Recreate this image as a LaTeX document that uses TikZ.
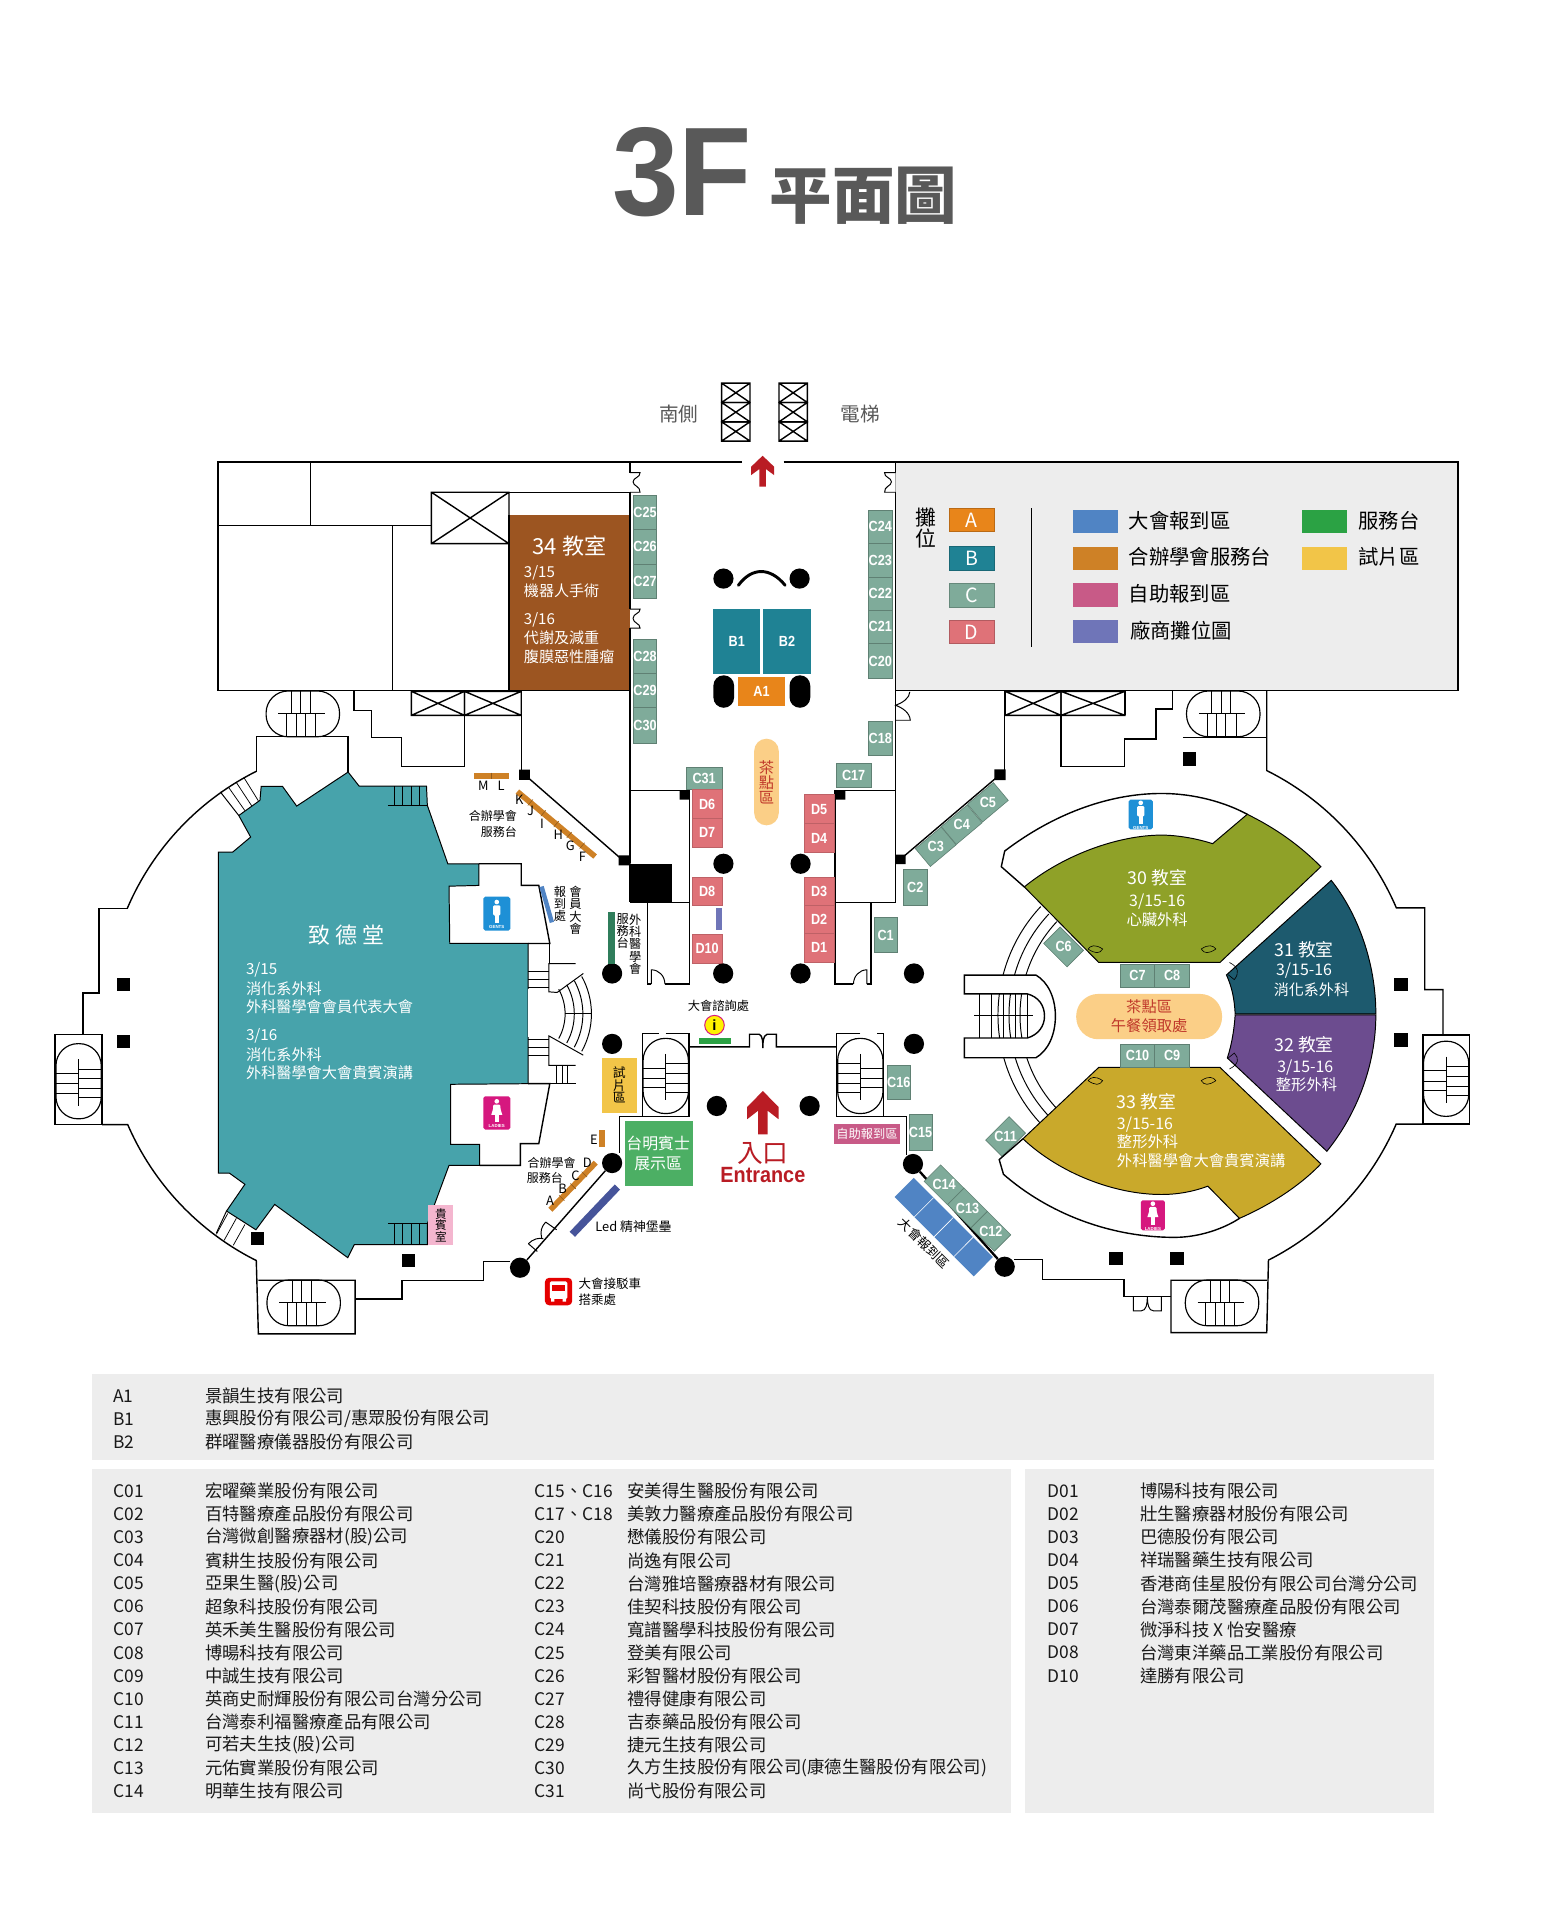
\documentclass[tikz,border=0pt]{standalone}
\usepackage{fontspec}
\setmainfont{Noto Sans CJK TC}
\newfontfamily\arl[FakeStretch=0.86]{Liberation Sans}
\newfontfamily\arb{Liberation Sans Bold}
\usetikzlibrary{calc}
\definecolor{cA}{HTML}{E8851A}\definecolor{cB}{HTML}{1F8294}\definecolor{cC}{HTML}{7FAB9A}\definecolor{cD}{HTML}{DF7278}
\definecolor{cReg}{HTML}{5084C4}\definecolor{cDesk}{HTML}{CE8126}\definecolor{cSelf}{HTML}{C85A87}\definecolor{cVen}{HTML}{6F75B8}
\definecolor{cSvc}{HTML}{2BA244}\definecolor{cFilm}{HTML}{F2C548}\definecolor{cGrey}{HTML}{EDEDED}\definecolor{cTitle}{HTML}{595959}
\definecolor{cHall}{HTML}{47A3AB}\definecolor{cBrown}{HTML}{9C5521}\definecolor{cR30}{HTML}{8FA128}\definecolor{cR31}{HTML}{1D5A6E}
\definecolor{cR32}{HTML}{6C4C8F}\definecolor{cR33}{HTML}{C9A92B}\definecolor{cTea}{HTML}{FBCF87}\definecolor{cRed}{HTML}{B91C24}
\definecolor{cTeaT}{HTML}{C0392B}\definecolor{cPink}{HTML}{F4B6CF}\definecolor{cGents}{HTML}{1E90D6}\definecolor{cLadies}{HTML}{D6187F}
\definecolor{cLed}{HTML}{46549A}\definecolor{cGreenB}{HTML}{2F7D5B}\definecolor{cShow}{HTML}{4CAF64}
\newcommand{\fs}[1]{\fontsize{#1}{#1}\selectfont}
\tikzset{
 wall/.style={draw=black,line width=1.15pt,line join=miter},
 thin wall/.style={draw=black,line width=.8pt},
 ln/.style={draw=black,line width=.6pt},
 room/.style={draw=black,line width=.8pt},
 cbox/.style={fill=cC,draw=cC!75!black,line width=.5pt},
 dbox/.style={fill=cD,draw=cD!85!black,line width=.5pt},
 lbl/.style={inner sep=0pt,text=white,font=\arl\bfseries\fs{12}},
 wt/.style={inner sep=0pt,text=white,anchor=west},
 bk/.style={inner sep=0pt,text=black},
 col/.style={inner sep=0pt,align=center},
 dot/.style={fill=black,draw=none,circle,minimum size=16.5pt,inner sep=0pt},
 sq/.style={fill=black,draw=none,minimum size=11pt,inner sep=0pt},
 swt/.style={line width=.5pt},
 tb/.style={inner sep=0pt,anchor=west,text=black!90,font=\fs{14.2}},
}
\newcommand{\bx}[7]{\path[#6] (#2,#3) rectangle (#4,#5) node[midway,lbl] (#1) {#7};}
\newcommand{\rbx}[8]{\node[#7,minimum width=#4pt,minimum height=#5pt,inner sep=0pt,rotate=#6] (#1) at (#2,#3) {};\node[lbl] at (#1.center) {#8};}
\newcommand{\hstair}[2]{\begin{scope}[shift={(#1,#2)}]
 \draw[line width=.95pt,rounded corners=18pt] (-30,-18.7) rectangle (30,18.7);
 \draw[line width=.9pt] (-20,0)--(18,0);
 \draw[ln] (-9.6,-18.7)--(-9.6,0) (-1.6,-18.7)--(-1.6,0) (6,-18.7)--(6,0);
 \draw[ln] (-13.3,0)--(-13.3,18.7) (-5.6,0)--(-5.6,18.7) (2,0)--(2,18.7) (10.4,0)--(10.4,18.7);
\end{scope}}
\newcommand{\vstair}[3]{\begin{scope}[shift={(#1,#2)},xscale=#3]
 \draw[line width=.95pt,rounded corners=18pt] (-18.5,-30.7) rectangle (18.5,30.7);
 \draw[line width=.9pt] (0,-18)--(0,20);
 \draw[ln] (-18.5,-6.5)--(0,-6.5) (-18.5,2)--(0,2) (-18.5,9.5)--(0,9.5);
 \draw[ln] (0,-10)--(18.5,-10) (0,-2)--(18.5,-2) (0,6)--(18.5,6) (0,13.5)--(18.5,13.5);
\end{scope}}
\newcommand{\xbox}[4]{\draw[wall] (#1,#2) rectangle (#3,#4) (#1,#2)--(#3,#4) (#1,#4)--(#3,#2);}
\newcommand{\wc}[8]{% name x1 y1 x2 y2 color label female
 \path[fill=#6,rounded corners=1.5pt] (#2,#3) rectangle (#4,#5) node[midway,inner sep=0pt] (#1) {};
 \fill[white] ($(#1.center)+(0,-9.5)$) circle (1.9pt);
 \fill[white,rounded corners=1pt] ($(#1.center)+(-3,-6.8)$) rectangle ($(#1.center)+(3,1.5)$);
 \fill[white] ($(#1.center)+(-1.8,1)$) rectangle ($(#1.center)+(1.8,7.5)$);
 #8
 \node[inner sep=0pt,text=white,font=\arb\fs{3.6}] at ($(#1.center)+(0,11)$) {#7};}
\begin{document}
\begin{tikzpicture}[x=1pt,y=-1pt]
\useasboundingbox (0,0) rectangle (1273,1568);
\fill[white] (0,0) rectangle (1273,1568);
% title
\node[inner sep=0pt,text=cTitle,font=\arb\fs{103},xscale=.95] (t3f) at (557,141) {3F};
\node[inner sep=0pt,text=cTitle,font=\bfseries\fs{51}] (tplan) at (705,160) {平面圖};
% elevators
\foreach \a/\b in {589.3/612.5,636.2/659.3}{
 \xbox{\a}{312.9}{\b}{328.7}\xbox{\a}{328.7}{\b}{344.5}\xbox{\a}{344.5}{\b}{360.2}}
\node[inner sep=0pt,text=cTitle,font=\fs{16}] (south) at (554.5,338) {南側};
\node[inner sep=0pt,text=cTitle,font=\fs{16}] (lift) at (702.5,338) {電梯};
% left block
\fill[cBrown] (415.7,420.5) rectangle (514.3,563.7);
\draw[wall] (606,377.4)--(178,377.4)--(178,563.7)--(514.5,563.7);
\draw[wall] (253.4,377.4)--(253.4,429) (178,429)--(352,429) (320.7,429)--(320.7,563.7);
\draw[wall] (352.3,402)--(514.5,402);
\xbox{352.3}{402}{415.7}{444}
\draw[wall] (415.7,420.5)--(415.7,563.7);
\draw[wall] (640,377.4)--(731.4,377.4);
% legend box
\path[fill=cGrey,draw=black,line width=1.15pt] (731.4,377.4) rectangle (1190.6,564);
% corridor walls
\draw[wall] (514.5,377.4)--(514.5,386) (514.5,402)--(514.5,497.5) (514.5,513)--(514.5,705);
\draw[thin wall] (514.5,386)--(522.7,386) .. controls (523,390) and (517,390) .. (517,393.5) .. controls (517,397) and (523,397) .. (522.7,402)--(514.5,402);
\draw[thin wall] (514.5,497.5)--(522.7,497.5) .. controls (523,501) and (517,501) .. (517,505) .. controls (517,509) and (523,509) .. (522.7,513)--(514.5,513);
\draw[wall] (731.4,377.4)--(731.4,737);
\draw[thin wall,fill=white] (731.4,386)--(722.4,386) .. controls (722,390) and (728,390) .. (728,393.5) .. controls (728,397) and (722,397) .. (722.4,402)--(731.4,402);
\draw[thin wall] (743,565) .. controls (743,570) and (737,574) .. (731.4,576) .. controls (737,578) and (743,582) .. (743.4,588.2)--(731.4,588.2);
% mid rooms
\draw[wall] (514.5,645.5)--(563,645.5)--(563,803.7)--(543,803.7);
\draw[wall] (682,645.5)--(731.4,645.5) (682,645.5)--(682,803.7)--(697,803.7);
\draw[wall] (514.5,737)--(563,737) (528.7,737)--(528.7,803.7)--(532,803.7);
\draw[wall] (682,737)--(731.4,737) (711.3,737)--(711.3,803.7)--(708,803.7);
\draw[thin wall] (532,803.7)--(532,792) .. controls (538,792) and (543,797) .. (543,803.7);
\draw[thin wall] (708,803.7)--(708,792) .. controls (702,792) and (697,797) .. (697,803.7);
\fill[black] (514,705.4) rectangle (548.6,737);
\fill[black] (555,645.5) rectangle (563,653) (682,645.5) rectangle (690.3,653);
% diagonals and posts
\draw[wall] (425.7,563.7)--(425.7,630) (820.5,564)--(820.5,630);
\draw[wall] (430,634)--(508,702) (735,702)--(815,634);
\fill[black] (424,628.6) rectangle (432.7,636.8) (505.3,698.6) rectangle (515,706.8) (731.4,698) rectangle (739.6,705.6) (812,628.3) rectangle (821.2,637);
% upper-left stepped
\xbox{336}{564.6}{379.3}{584.2}\xbox{379.3}{564.6}{425.7}{584.2}
\draw[wall] (289,564)--(289,580)--(303.3,580)--(303.3,602.4)--(327.7,602.4)--(327.7,625.9)--(379.3,625.9)--(379.3,584.2);
% upper-right stepped
\xbox{820.9}{564.6}{866.5}{584.2}\xbox{866.5}{564.6}{918.7}{584.2}
\draw[wall] (866.5,584.2)--(866.5,625.9)--(918.5,625.9)--(918.5,603.6)--(944,603.6)--(944,579)--(957.4,579)--(957.4,564);
\draw[wall] (918.7,564)--(918.7,584.2);
% stairs top
\hstair{247.3}{583}\hstair{999}{583}
\hstair{248}{1064}\hstair{998}{1064}
% left outer shell
\draw[wall] (209.7,629.7)--(209.7,601.3)--(284.3,601.3)--(284.3,630.5);
\draw[wall] (209.7,629.7) arc[start angle=243.5,end angle=203.06,radius=223.4];
\draw[wall] (104.3,742)--(80.7,742)--(80.7,810.8)--(67.7,810.8)--(67.7,844.6);
\draw[wall] (45,844.6) rectangle (83.3,918.4);
\draw[wall] (83.3,918.4)--(104.3,918.4) arc[start angle=156.6,end angle=116.6,radius=223.4]--(211,1089.3)--(290,1089.3)--(290,1045.5)--(211,1045.5);
\draw[wall] (290,1061)--(328.3,1061)--(328.3,1045.7)--(395,1045.7)--(395,1030)--(416.7,1030);
\vstair{64.2}{883}{1}
% right outer shell
\draw[wall] (1034.5,564)--(1034.5,629.3) arc[start angle=-63.5,end angle=-23.2,radius=223.8]--(1163.5,741.4)--(1163.5,808.2)--(1178.4,808.2)--(1178.4,845.3);
\draw[wall] (966,602.5)--(1034.5,602.5);
\draw[wall] (1162.1,845.3) rectangle (1200,918);
\draw[wall] (1162.1,918)--(1140.2,918) arc[start angle=23.3,end angle=63.1,radius=223.8]--(1034.5,1088.3)--(956.3,1088.3)--(956.3,1045.5)--(1034.5,1045.5);
\draw[wall] (956.3,1059)--(917.8,1059)--(917.8,1044.8)--(851.3,1044.8)--(851.3,1028.7)--(828.3,1028.7);
\draw[thin wall] (925.6,1059)--(925.6,1070.5)--(932,1070.5) .. controls (936,1070.5) and (937,1065) .. (937,1059) .. controls (937,1065) and (938,1070.5) .. (942,1070.5)--(948.5,1070.5)--(948.5,1059);
\vstair{1181}{881}{1}
% hall
\path[room,fill=cHall] (284.3,630.5)--(293.3,642)--(348.3,642)--(349,657.7)--(365.7,705.4)--(391,705.4)--(391,723.1)--(366.7,723.7)--(367.3,770.5)--(431.3,770.5)--(431.3,885)--(368,885.5)--(368,934.5)--(391.7,934.5)--(391.7,951.7)--(366.7,951.7)--(349,999.4)--(349,1016.5)--(289.3,1016.5)--(284,1027.1)--(224.3,983.6)--(209,1004.3)--(185,989)--(200,967.2)--(187.3,958)--(178.3,958)--(178.3,695.9)--(190,695.9)--(204.7,683.6)--(195,666)--(212.3,653.6)--(213.3,642.2)--(230.7,642.2)--(242.3,658.3)--cycle;
\fill[white] (430.8,808) rectangle (436,847);
\foreach \x in {321.7,328.3,335.7,342.3}{\draw[ln] (\x,642)--(\x,657.7);\draw[ln] (\x,999.4)--(\x,1016.5);}
\draw[thin wall] (316.7,657.7)--(349,657.7) (316.7,999.4)--(349,999.4);
\draw[thin wall] (180,646.8)--(195,666);
\foreach \a/\b/\c/\d in {186.7/643/200/662,193/639/205.5/658,199.5/635.5/211/654}{\draw[ln] (\a,\b)--(\c,\d);}
\foreach \a/\b/\c/\d in {186/991/176.7/1008,193/995/183/1013,200/1000/190.5/1017}{\draw[ln] (\a,\b)--(\c,\d);}
\draw[thin wall] (185,989)--(176.7,1007);
% restrooms right edges
\draw[wall] (391,705.4)--(425.7,705.4)--(425.7,723)--(440,723)--(449,770.5)--(431.3,770.5);
\draw[wall] (431.3,885)--(449,885)--(440,934)--(425,934)--(425,951.7)--(391.7,951.7);
\draw[ln] (448.3,770.5)--(448.3,787);
\draw[thin wall] (470,787)--(448.3,787)--(448.3,810)--(455,810.5);
\draw[thin wall] (470,870)--(448.3,870)--(448.3,846)--(476.3,861.7);
\draw[thin wall] (449,885)--(470.4,885);
\foreach \y in {793.6,800,806.4,849,855,861.7}{\draw[ln] (431.3,\y)--(448.3,\y);}
\foreach \x in {454,459,463.5}{\draw[ln] (\x,870)--(\x,885);}
\foreach \r in {41.5,49,56,63}{\draw[thin wall] ($(420,828)+(-29:\r)$) arc[start angle=-29,end angle=29,radius=\r];}
\draw[thin wall] (455,810.5)--(476.4,795);
\draw[thin wall] (461.4,828)--(483.2,828);
% pink room
\path[fill=cPink] (349.5,984.4) rectangle (370.3,1016.5);
\node[col,text=black,font=\fs{9.5}] (vip) at (360,1000.5) {貴\\賓\\室};
% hall text
\node[inner sep=0pt,text=white,font=\fs{18}] (hallt) at (283.3,763.7) {致 德 堂};
\foreach \n/\y/\t in {h1/792.3/{3/15},h2/807.3/消化系外科,h3/822.2/外科醫學會會員代表大會,h4/846.2/{3/16},h5/861.2/消化系外科,h6/876.2/外科醫學會大會貴賓演講}{
 \node[wt,font=\fs{12.4}] (\n) at (200.7,\y) {\t};}
% room 34 text
\node[inner sep=0pt,text=white,font=\fs{18}] (r34) at (465,445.7) {34 教室};
\foreach \n/\y/\t in {b1/467.8/{3/15},b2/482.5/機器人手術,b3/506/{3/16},b4/520.7/代謝及減重,b5/536.5/腹膜惡性腫瘤}{
 \node[wt,font=\fs{12.3}] (\n) at (427.7,\y) {\t};}
% stall columns
\bx{c25}{517.2}{404.6}{536.3}{432.4}{cbox}{C25}
\bx{c26}{517.2}{432.4}{536.3}{460.7}{cbox}{C26}
\bx{c27}{517.2}{460.7}{536.3}{489}{cbox}{C27}
\bx{c28}{517.2}{522}{536.3}{550}{cbox}{C28}
\bx{c29}{517.2}{550}{536.3}{578}{cbox}{C29}
\bx{c30}{517.2}{578}{536.3}{607}{cbox}{C30}
\bx{c24}{709.3}{416.6}{728.4}{443.3}{cbox}{C24}
\bx{c23}{709.3}{443.3}{728.4}{471.6}{cbox}{C23}
\bx{c22}{709.3}{471.6}{728.4}{498.3}{cbox}{C22}
\bx{c21}{709.3}{498.3}{728.4}{525.6}{cbox}{C21}
\bx{c20}{709.3}{525.6}{728.4}{554.2}{cbox}{C20}
\bx{c18}{709.3}{588.8}{728.4}{617.1}{cbox}{C18}
\bx{c17}{682.9}{623.7}{711.3}{642.8}{cbox}{C17}
\bx{c31}{560.6}{626.4}{589.5}{645}{cbox}{C31}
\bx{d6}{565.5}{645}{589.5}{668.1}{dbox}{D6}
\bx{d7}{565.5}{668.1}{589.5}{691.8}{dbox}{D7}
\bx{d8}{565.5}{716.3}{589.5}{739.5}{dbox}{D8}
\bx{d10}{565.5}{762.8}{589.5}{786.3}{dbox}{D10}
\bx{d5}{657}{649}{681}{672.7}{dbox}{D5}
\bx{d4}{657}{672.7}{681}{696.4}{dbox}{D4}
\bx{d3}{657}{716.5}{681}{739}{dbox}{D3}
\bx{d2}{657}{739}{681}{762.3}{dbox}{D2}
\bx{d1}{657}{762.3}{681}{785.5}{dbox}{D1}
\bx{c1}{714}{749.2}{732.6}{778}{cbox}{C1}
\bx{c2}{738}{710.3}{757}{739.2}{cbox}{C2}
\bx{c16}{724.4}{870}{743.5}{898}{cbox}{C16}
\bx{c15}{742.4}{910.3}{761.2}{939}{cbox}{C15}
\fill[cVen] (585,741.9) rectangle (590,759.6);
\rbx{c3}{764.2}{691.5}{27.5}{19}{40}{cbox}{C3}
\rbx{c4}{785.4}{673.5}{27.5}{19}{40}{cbox}{C4}
\rbx{c5}{806.8}{655.2}{27.5}{19}{40}{cbox}{C5}
\rbx{c6}{868.6}{773.3}{27}{19}{-45}{cbox}{C6}
\rbx{c11}{821.2}{928.2}{27}{19}{45}{cbox}{C11}
% centre exhibition
\path[fill=cB] (582.6,497.5) rectangle (620.8,550.7) node[midway,lbl] (b1n) {B1};
\path[fill=cB] (623.5,497.5) rectangle (662,550.7) node[midway,lbl] (b2n) {B2};
\path[fill=cA] (603,552.8) rectangle (640.7,576.3) node[midway,lbl] (a1n) {A1};
\fill[black,rounded corners=8.4pt] (582.6,551.5) rectangle (599.5,578) (644.8,551.5) rectangle (661.7,578);
\draw[line width=2.4pt,line cap=round] (603,478) .. controls (614,463) and (629,463) .. (641.2,478);
\path[fill=cTea,rounded corners=10pt] (615.9,603.3) rectangle (636,674);
\node[col,text=cTeaT,font=\fs{12.5}] (teav) at (625.9,639) {茶\\點\\區};
% posts
\foreach \n/\x/\y in {p1/499.9/795,p2/590.6/795,p3/653.8/795,p4/746.4/795,p5/499.9/852.5,p6/746.4/852.5,p7/585.4/903.2,p8/661.2/903.2,p9/499.9/949.8,p10/745.6/950.6,p11/424.7/1035.3,p12/590.8/705.4,p13/653.8/705.4,p14/590.8/472.5,p15/653/472.5,p16/820.5/1034.5}{
 \node[dot] (\n) at (\x,\y) {};}
\foreach \n/\x/\y in {s1/101/804,s2/101/850.6,s3/210.3/1011.6,s4/333.7/1029.3,s5/971.5/620,s6/1144/803.8,s7/1144/849.4,s8/911.4/1027.6,s9/961.3/1027.6}{
 \node[sq] (\n) at (\x,\y) {};}
% lobby walls
\draw[wall] (524.6,911.6)--(524.6,844)--(538,844) (543.5,844)--(562.8,844)--(562.8,911.6)--(505.9,911.6)--(505.9,942);
\draw[wall] (562.8,855)--(612.1,855)--(612.1,844.6)--(620,844.6) .. controls (623,846) and (623,851) .. (623,856) .. controls (623,851) and (623,846) .. (626.5,844.6)--(634,844.6)--(634,855)--(683,855);
\draw[wall] (702.6,844)--(683,844)--(683,911.6)--(721.6,911.6)--(721.6,844)--(716,844);
\draw[wall] (721.6,911.6)--(740.2,911.6)--(740.2,943.5);
\vstair{543.7}{878.7}{1}
\vstair{702.6}{878.7}{-1}
% diagonal walls of entrance
\draw[wall] (p9)--(p11);
\draw[line width=1.9pt] (p10)--(p16);
\draw[thin wall] (445.6,998)--(454.6,1004.3) (445.6,998) .. controls (442,1002) and (441,1006) .. (442.4,1011);
\draw[thin wall] (431.5,1015.7)--(438.8,1022) (431.5,1015.7) .. controls (435,1012) and (440,1010.5) .. (443.7,1011.6);
% entrance furniture
\path[fill=cFilm] (491.7,863.7) rectangle (520.3,909);
\node[col,text=black,font=\fs{10.5}] (film) at (505.8,886) {試\\片\\區};
\path[fill=cShow] (510.5,915.4) rectangle (565.8,968.8);
\node[col,text=white,font=\fs{13}] (show) at (537.5,942) {台明賓士\\[3.5pt]展示區};
\path[fill=cSelf] (680.8,917.6) rectangle (735.3,934.5) node[midway,inner sep=0pt,text=white,font=\fs{10}] (self) {自助報到區};
\fill[cSvc] (571.2,848) rectangle (597,852.8);
\node[draw=cLadies,line width=.8pt,fill=yellow,circle,minimum size=16pt,inner sep=0pt,text=black,font=\arb\fs{12}] (info) at (583.5,837.2) {i};
\node[inner sep=0pt,font=\fs{10}] (infot) at (586.8,821.4) {大會諮詢處};
% entrance arrow
\fill[cRed] (623,891)--(635.8,904)--(635.8,914)--(626.8,907)--(626.8,926.3)--(619.2,926.3)--(619.2,907)--(610.2,914)--(610.2,904)--cycle;
\node[inner sep=0pt,text=cRed,font=\fs{21}] (ent1) at (623,941.6) {入口};
\node[inner sep=0pt,text=cRed,font=\arb\fs{18},xscale=.9] (ent2) at (623,960) {Entrance};
\fill[cRed] (622.8,372.2)--(632.2,381.2)--(632.2,388)--(625.4,383)--(625.4,397.5)--(620.2,397.5)--(620.2,383)--(613.4,388)--(613.4,381.2)--cycle;
% desks
\fill[cDesk] (386.7,631) rectangle (415.7,636);
\draw[ln,cDesk!70!black] (401,631)--(401,636);
\draw[line width=4.6pt,cDesk] (422.5,646.5)--(486,699.5);
\foreach \p in {.167,.333,.5,.667,.833}{\draw[line width=.5pt,cDesk!70!black] ($(422.5,646.5)!\p!(486,699.5)+(2,-2.4)$)--($(422.5,646.5)!\p!(486,699.5)+(-2,2.4)$);}
\draw[line width=4.6pt,cDesk] (449.5,988)--(486.5,949.5);
\foreach \p in {.25,.5,.75}{\draw[line width=.5pt,cDesk!70!black] ($(449.5,988)!\p!(486.5,949.5)+(-2.2,-2.2)$)--($(449.5,988)!\p!(486.5,949.5)+(2.2,2.2)$);}
\fill[cDesk] (489.2,922.5) rectangle (494,936.7);
\foreach \n/\x/\y/\t in {lm/394.7/641.4/M,ll/409.3/641.4/L,lk/424/653/K,lj/433.3/661.8/J,li/442.7/672.7/I,lh/456/681.7/H,lg/465.7/691/G,lf/475.7/700/F,le/485/930.7/E,ld/479.7/949.5/D,lc/470/960.4/C,lb/459.5/970.7/B,la/449.2/980.3/A}{
 \node[bk,font=\fs{10.5}] (\n) at (\x,\y) {\t};}
\node[bk,anchor=east,font=\fs{9.8}] (h1a) at (422.3,666.5) {合辦學會};
\node[bk,anchor=east,font=\fs{9.8}] (h1b) at (422.3,679) {服務台};
\node[bk,font=\fs{9.8}] (h2a) at (450.5,949.5) {合辦學會};
\node[bk,font=\fs{9.8}] (h2b) at (445,961.8) {服務台};
% registration bars
\draw[line width=3.6pt,cReg] (442.3,724)--(450.7,753.3);
\node[col,text=black,font=\fs{10}] (mreg1) at (457.3,738.3) {報\\到\\處};
\node[col,text=black,font=\fs{10}] (mreg2) at (470,743.5) {會\\員\\大\\會};
\fill[cGreenB] (496.9,745) rectangle (502.3,787);
\node[col,text=black,font=\fs{10}] (sa) at (508.6,760.4) {服\\務\\台};
\node[col,text=black,font=\fs{10}] (sb) at (518.7,771) {外\\科\\醫\\學\\會};
\draw[line width=6pt,cLed] (504.2,969.4)--(467.4,1008);
\node[inner sep=0pt,anchor=west,font=\fs{10.5}] (led) at (486,1002) {Led 精神堡壘};
% bus
\path[fill=red!90!black,rounded corners=3.5pt] (445,1043.5) rectangle (467.3,1066) node[midway,inner sep=0pt] (bus) {};
\fill[white,rounded corners=1.2pt] (449,1046.5) rectangle (463.3,1060.8);
\fill[red!90!black] (450.6,1049.5) rectangle (461.7,1054.5);
\fill[white] (450,1060) rectangle (452.8,1063) (459.5,1060) rectangle (462.3,1063);
\node[inner sep=0pt,anchor=west,font=\fs{10.2}] (bus1) at (472.3,1048) {大會接駁車};
\node[inner sep=0pt,anchor=west,font=\fs{10.2}] (bus2) at (472.3,1061.2) {搭乘處};
% registration block
\path[fill=cReg] (746.2,962)--(810.8,1026.6)--(795.2,1042.4)--(730.6,977.6)--cycle;
\foreach \p in {.25,.5,.75}{\draw[white,line width=.5pt] ($(746.2,962)!\p!(810.8,1026.6)$)--($(730.6,977.6)!\p!(795.2,1042.4)$);}
\node[inner sep=0pt,rotate=-45,font=\fs{10.5}] (regt) at (754.7,1015.3) {大會報到區};
\rbx{c14}{771}{967.6}{27}{19}{-45}{cbox}{C14}
\rbx{c13}{790.1}{986.5}{27}{19}{-45}{cbox}{C13}
\rbx{c12}{809.2}{1005.6}{27}{19}{-45}{cbox}{C12}
% centre ring
\foreach \r in {130,121,112}{\draw[thin wall] ($(945,829)+(137:\r)$) arc[start angle=137,end angle=223,radius=\r];}
% white outer bands
\draw[wall,fill=white] (836.5,724.3)--(817.7,707.8)--(820.5,695) .. controls (860,665) and (905,648) .. (948.5,648) .. controls (975,648) and (1000,655) .. (1018.6,665);
\draw[wall,fill=white] (835.4,930)--(816,947)--(819.5,959) .. controls (855,990) and (905,1010.5) .. (959.2,1010.5) .. controls (980,1010.5) and (1000,1003) .. (1012.2,995);
% rooms
\path[room,fill=cR30] (836.5,724.3) .. controls (870,697) and (915,682) .. (948.5,682) .. controls (962,682) and (978,685) .. (990.3,689)--(1018.6,665) .. controls (1043,677) and (1062,691) .. (1078.7,707.8)--(996.3,786)--(897.3,786)--cycle;
\path[room,fill=cR31] (1087.2,719) .. controls (1108,745) and (1123.6,785) .. (1123.6,828)--(1008.7,828) .. controls (1008,815) and (1006,806) .. (1001.6,796.2)--cycle;
\path[room,fill=cR32] (1008.7,828.8)--(1123.6,828.8) .. controls (1123.6,870) and (1108,910) .. (1083.6,940.2)--(1002.3,864) .. controls (1006,853) and (1008,840) .. (1008.7,828.8)--cycle;
\path[room,fill=cR33] (897.3,871.7)--(996.3,871.7)--(1078.7,950.5) .. controls (1060,970) and (1035,985) .. (1012.2,995)--(986.4,968.7) .. controls (975,973) and (962,975.5) .. (948.5,975.5) .. controls (910,975.5) and (865,958) .. (835.4,930)--cycle;
% room doors
\foreach \a/\b/\c in {888.5/900.5/775,993/981/775,888.5/900.5/882.5,993/981/882.5}{
 \draw[line width=.5pt] (\a,\c) .. controls ($(\a,\c)!.5!(\b,\c)+(0,4)$) and ($(\a,\c)!.8!(\b,\c)+(0,4)$) .. (\b,\c) .. controls ($(\a,\c)!.5!(\b,\c)+(0,-4)$) and ($(\a,\c)!.2!(\b,\c)+(0,-3)$) .. (\a,\c);}
\draw[line width=.5pt] (1004,786) .. controls (1012,790) and (1012,795) .. (1008,800) -- (1003,796);
\draw[line width=.5pt] (1004,873) .. controls (1012,869) and (1012,864) .. (1008,860) -- (1003,864);
% centre stair
\path[wall,fill=white] (787.6,796.3)--(846,796.3) .. controls (856,802) and (861.9,815) .. (861.9,829.8) .. controls (861.9,845) and (856,858) .. (846,863.8)--(787.6,863.8)--(787.6,847.7)--(839,847.7) .. controls (848,845) and (853,838) .. (853,829.8) .. controls (853,821) and (848,814) .. (839,811.7)--(787.6,811.7)--cycle;
\draw[thin wall] (795.8,829.5)--(843.2,829.5);
\foreach \x in {800,810,819.5,829,839}{\draw[ln] (\x,811.7)--(\x,829.5);\draw[ln] (\x,829.5)--(\x,847.7);}
% C7-C10
\bx{c7}{915}{787.7}{943}{806}{cbox}{C7}
\bx{c8}{943}{787.7}{971.5}{806}{cbox}{C8}
\bx{c10}{915}{852.8}{943}{871.7}{cbox}{C10}
\bx{c9}{943}{852.8}{971.5}{871.7}{cbox}{C9}
\path[fill=cTea,rounded corners=18pt] (878.9,811.7) rectangle (998,848.7);
\node[col,text=cTeaT,font=\fs{12.5}] (tea) at (938.5,830) {茶點區\\[2.5pt]午餐領取處};
% room labels
\node[inner sep=0pt,text=white,font=\fs{14.5}] (r30) at (945,716.7) {30 教室};
\node[inner sep=0pt,text=white,font=\fs{13}] (r30a) at (945,736.3) {3/15-16};
\node[inner sep=0pt,text=white,font=\fs{12.5}] (r30b) at (945,751) {心臟外科};
\node[inner sep=0pt,text=white,font=\fs{14.5}] (r31) at (1065,775.7) {31 教室};
\node[inner sep=0pt,text=white,font=\fs{13}] (r31a) at (1065,792.8) {3/15-16};
\node[inner sep=0pt,text=white,font=\fs{12.3}] (r31b) at (1071,808.2) {消化系外科};
\node[inner sep=0pt,text=white,font=\fs{14.5}] (r32) at (1065,852.8) {32 教室};
\node[inner sep=0pt,text=white,font=\fs{13}] (r32a) at (1066,871.7) {3/15-16};
\node[inner sep=0pt,text=white,font=\fs{12.5}] (r32b) at (1067,886) {整形外科};
\node[inner sep=0pt,text=white,font=\fs{14.5},anchor=west] (r33) at (912,899.4) {33 教室};
\node[inner sep=0pt,text=white,font=\fs{13},anchor=west] (r33a) at (912,918.3) {3/15-16};
\node[inner sep=0pt,text=white,font=\fs{12.5},anchor=west] (r33b) at (912,932.7) {整形外科};
\node[inner sep=0pt,text=white,font=\fs{12.5},anchor=west] (r33c) at (912,948.1) {外科醫學會大會貴賓演講};
% WC
\wc{wg1}{394.7}{732.3}{416.7}{760}{cGents}{GENTS}{}
\wc{wl1}{394.7}{895.3}{416.7}{922.5}{cLadies}{LADIES}{\fill[white] ($(wl1.center)+(-4.5,1.5)$)--($(wl1.center)+(4.5,1.5)$)--($(wl1.center)+(2.2,-6)$)--($(wl1.center)+(-2.2,-6)$)--cycle;}
\wc{wg2}{921.7}{653}{941.5}{677.3}{cGents}{GENTS}{}
\wc{wl2}{931.6}{980.3}{951.4}{1004.7}{cLadies}{LADIES}{\fill[white] ($(wl2.center)+(-4.5,1.5)$)--($(wl2.center)+(4.5,1.5)$)--($(wl2.center)+(2.2,-6)$)--($(wl2.center)+(-2.2,-6)$)--cycle;}
% legend
\node[col,font=\fs{17}] (leg0) at (756.2,431.5) {攤\\位};
\path[fill=cA,draw=cA!80!black,swt] (775.3,415.2) rectangle (811.8,434.3) node[midway,inner sep=0pt,text=white,font=\fs{16}] (la1) {A};
\path[fill=cB,draw=cB!80!black,swt] (775.3,446.5) rectangle (811.8,465.6) node[midway,inner sep=0pt,text=white,font=\fs{16}] (la2) {B};
\path[fill=cC,draw=cC!80!black,swt] (775.3,476.5) rectangle (811.8,496.1) node[midway,inner sep=0pt,text=white,font=\fs{16}] (la3) {C};
\path[fill=cD,draw=cD!80!black,swt] (775.3,506.5) rectangle (811.8,525.5) node[midway,inner sep=0pt,text=white,font=\fs{16}] (la4) {D};
\draw[line width=.9pt] (842.4,415.2)--(842.4,528.3);
\fill[cReg] (876.5,416.5) rectangle (913,435.6);
\fill[cDesk] (876.5,446.5) rectangle (913,465.6);
\fill[cSelf] (876.5,476.5) rectangle (913,495.6);
\fill[cVen] (876.5,506.5) rectangle (913,525.5);
\fill[cSvc] (1063.4,416.5) rectangle (1100,435.6);
\fill[cFilm] (1063.4,446.5) rectangle (1100,465.6);
\foreach \n/\x/\y/\t in {g1/921.8/425/大會報到區,g2/921.8/455/合辦學會服務台,g3/921.8/485/自助報到區,g4/922.8/515/廠商攤位圖,g5/1109.3/425/服務台,g6/1109.3/455/試片區}{
 \node[inner sep=0pt,anchor=west,font=\fs{16.6}] (\n) at (\x,\y) {\t};}
% tables
\fill[cGrey] (75,1122) rectangle (1171,1192.4);
\fill[cGrey] (75,1199.5) rectangle (826,1481);
\fill[cGrey] (837,1199.5) rectangle (1171,1481);
\foreach \k/\t [count=\i from 0] in {A1/景韻生技有限公司,B1/{惠興股份有限公司/惠眾股份有限公司},B2/群曜醫療儀器股份有限公司}{
 \node[tb] (ta\i) at (92.3,1140+18.95*\i) {\k};
 \node[tb] (tb\i) at (167.3,1140+18.95*\i) {\t};}
\foreach \k/\t [count=\i from 0] in {C01/宏曜藥業股份有限公司,C02/百特醫療產品股份有限公司,C03/台灣微創醫療器材(股)公司,C04/賓耕生技股份有限公司,C05/亞果生醫(股)公司,C06/超象科技股份有限公司,C07/英禾美生醫股份有限公司,C08/博暘科技有限公司,C09/中誠生技有限公司,C10/英商史耐輝股份有限公司台灣分公司,C11/台灣泰利福醫療產品有限公司,C12/可若夫生技(股)公司,C13/元佑實業股份有限公司,C14/明華生技有限公司}{
 \node[tb] (tc\i) at (92.3,1217.8+18.84*\i) {\k};
 \node[tb] (td\i) at (167.3,1217.8+18.84*\i) {\t};}
\foreach \k/\t [count=\i from 0] in {C15、C16/安美得生醫股份有限公司,C17、C18/美敦力醫療產品股份有限公司,C20/懋儀股份有限公司,C21/尚逸有限公司,C22/台灣雅培醫療器材有限公司,C23/佳契科技股份有限公司,C24/寬譜醫學科技股份有限公司,C25/登美有限公司,C26/彩智醫材股份有限公司,C27/禮得健康有限公司,C28/吉泰藥品股份有限公司,C29/捷元生技有限公司,C30/久方生技股份有限公司(康德生醫股份有限公司),C31/尚弋股份有限公司}{
 \node[tb] (te\i) at (436.5,1217.8+18.84*\i) {\k};
 \node[tb] (tf\i) at (512.3,1217.8+18.84*\i) {\t};}
\foreach \k/\t [count=\i from 0] in {D01/博陽科技有限公司,D02/壯生醫療器材股份有限公司,D03/巴德股份有限公司,D04/祥瑞醫藥生技有限公司,D05/香港商佳星股份有限公司台灣分公司,D06/台灣泰爾茂醫療產品股份有限公司,D07/微淨科技 X 怡安醫療,D08/台灣東洋藥品工業股份有限公司,D10/達勝有限公司}{
 \node[tb] (tg\i) at (855.4,1217.8+18.84*\i) {\k};
 \node[tb] (th\i) at (930.9,1217.8+18.84*\i) {\t};}
\end{tikzpicture}
\end{document}
